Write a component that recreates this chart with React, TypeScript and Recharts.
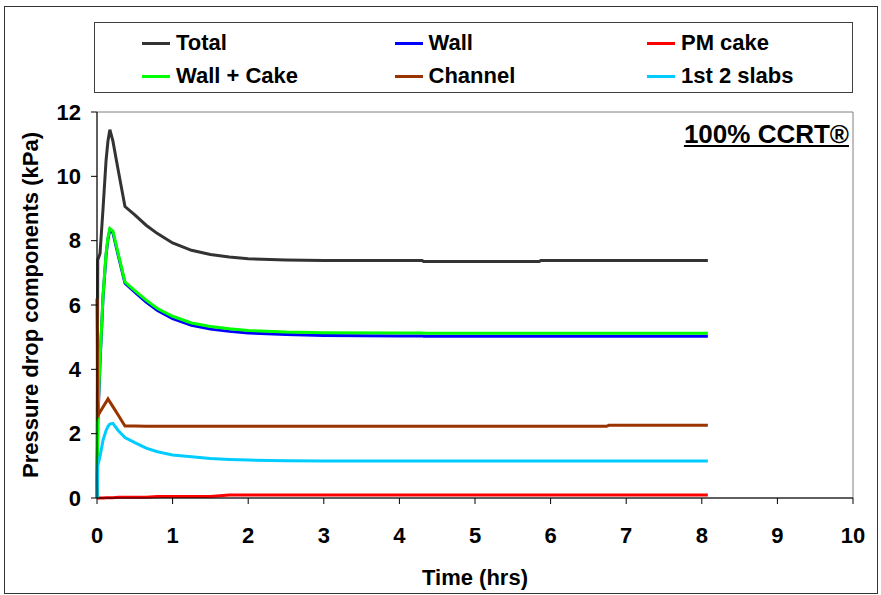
import React from 'react';
import { LineChart, Line, XAxis, YAxis, ReferenceArea } from 'recharts';

// time (hrs) samples shared by every series
const time = [0, 0.01, 0.04, 0.08, 0.12, 0.145, 0.17, 0.21, 0.28, 0.37, 0.5, 0.65, 0.8, 1.0, 1.25, 1.5, 1.75, 2.0, 2.5, 3.0, 4.0, 4.3, 4.32, 5.85, 5.87, 6.74, 6.77, 8.08];

// pressure drop components (kPa)
const total = [0, 7.4, 7.6, 9.0, 10.5, 11.1, 11.45, 11.1, 10.2, 9.06, 8.8, 8.48, 8.22, 7.93, 7.7, 7.57, 7.49, 7.44, 7.4, 7.38, 7.38, 7.38, 7.35, 7.35, 7.38, 7.38, 7.38, 7.38];
const wall = [0, 2.3, 4.2, 6.25, 7.55, 8.05, 8.33, 8.25, 7.55, 6.68, 6.4, 6.09, 5.83, 5.58, 5.37, 5.25, 5.18, 5.13, 5.08, 5.05, 5.04, 5.04, 5.03, 5.03, 5.03, 5.03, 5.03, 5.03];
const pmCake = [0, 0, 0, 0, 0.01, 0.01, 0.01, 0.01, 0.02, 0.02, 0.02, 0.02, 0.05, 0.05, 0.05, 0.05, 0.09, 0.09, 0.09, 0.09, 0.09, 0.09, 0.09, 0.09, 0.09, 0.09, 0.09, 0.09];
const wallCake = [0, 2.5, 4.3, 6.3, 7.6, 8.1, 8.38, 8.3, 7.6, 6.72, 6.45, 6.15, 5.89, 5.65, 5.44, 5.33, 5.26, 5.21, 5.16, 5.14, 5.13, 5.13, 5.12, 5.12, 5.12, 5.12, 5.12, 5.12];
const channel = [6.2, 2.55, 2.67, 2.83, 2.98, 3.08, 2.99, 2.84, 2.58, 2.24, 2.24, 2.23, 2.23, 2.23, 2.23, 2.23, 2.23, 2.23, 2.23, 2.23, 2.23, 2.23, 2.23, 2.23, 2.23, 2.23, 2.26, 2.26];
const slabs = [0, 1.0, 1.3, 1.8, 2.1, 2.22, 2.3, 2.32, 2.1, 1.88, 1.72, 1.55, 1.44, 1.34, 1.28, 1.23, 1.2, 1.18, 1.16, 1.15, 1.15, 1.15, 1.15, 1.15, 1.15, 1.15, 1.15, 1.15];

const xTicks = [0, 1, 2, 3, 4, 5, 6, 7, 8, 9, 10];
const yTicks = [0, 2, 4, 6, 8, 10, 12];

const series = [
  { key: 'total', name: 'Total', color: '#333333', values: total },
  { key: 'wall', name: 'Wall', color: '#0000ff', values: wall },
  { key: 'pmCake', name: 'PM cake', color: '#ff0000', values: pmCake },
  { key: 'wallCake', name: 'Wall + Cake', color: '#00ff00', values: wallCake },
  { key: 'channel', name: 'Channel', color: '#993300', values: channel },
  { key: 'slabs', name: '1st 2 slabs', color: '#00ccff', values: slabs },
];

const data = time.map((t, i) => {
  const row: Record<string, number> = { t };
  series.forEach(s => { row[s.key] = s.values[i]; });
  return row;
});

const FONT = '"Liberation Sans", Arial, sans-serif';
const tickStyle = { fontFamily: FONT, fontSize: 22, fontWeight: 700, fill: '#000' };

const App: React.FC = () => {
  return (
    <div style={{ position: 'relative', width: 881, height: 595, background: '#fff', fontFamily: FONT }}>
      <style>{'body{margin:0}'}</style>
      {/* outer frame */}
      <div style={{ position: 'absolute', left: 4, top: 6, width: 872, height: 586, border: '1px solid #333' }} />

      <LineChart width={881} height={595} data={data} margin={{ top: 112, right: 28, left: 10, bottom: 40 }}>
        <ReferenceArea x1={0} x2={10} y1={0} y2={12} fill="none" stroke="#808080" strokeWidth={1} />
        <XAxis
          dataKey="t"
          type="number"
          domain={[0, 10]}
          ticks={xTicks}
          interval={0}
          stroke="#000"
          tickSize={6}
          tickMargin={23}
          tick={tickStyle}
          height={57}
          label={{
            content: () => (
              <text x={475} y={577} textAnchor="middle" dominantBaseline="central" style={{ fontFamily: FONT, fontSize: 22, fontWeight: 700 }} fill="#000">
                Time (hrs)
              </text>
            ),
          }}
        />
        <YAxis
          type="number"
          domain={[0, 12]}
          ticks={yTicks}
          interval={0}
          stroke="#000"
          tickSize={6}
          tickMargin={10}
          tick={tickStyle}
          width={87}
          label={{
            content: () => (
              <text x={30} y={305} transform="rotate(-90 30 305)" textAnchor="middle" dominantBaseline="central" style={{ fontFamily: FONT, fontSize: 22, fontWeight: 700 }} fill="#000">
                Pressure drop components (kPa)
              </text>
            ),
          }}
        />
        {series.map(s => (
          <Line
            key={s.key}
            dataKey={s.key}
            name={s.name}
            type="linear"
            stroke={s.color}
            strokeWidth={3}
            dot={false}
            isAnimationActive={false}
          />
        ))}
      </LineChart>

      {/* legend box */}
      <div style={{ position: 'absolute', left: 94, top: 22, width: 757, height: 69, border: '1px solid #404040', background: '#fff' }}>
        {series.map((s, i) => {
          const col = i % 3;
          const row = Math.floor(i / 3);
          return (
            <div key={s.key} style={{ position: 'absolute', left: 47 + col * 252.5, top: 20 + row * 33 - 13, height: 26, display: 'flex', alignItems: 'center' }}>
              <span style={{ display: 'inline-block', width: 28, height: 3, background: s.color, marginRight: 6 }} />
              <span style={{ fontSize: 22, fontWeight: 700, color: '#000', whiteSpace: 'nowrap' }}>{s.name}</span>
            </div>
          );
        })}
      </div>

      {/* annotation */}
      <div style={{ position: 'absolute', right: 881 - 849, top: 119, fontSize: 26, fontWeight: 700, textDecoration: 'underline', color: '#000', whiteSpace: 'nowrap' }}>
        100% CCRT®
      </div>
    </div>
  );
};

export default App;
